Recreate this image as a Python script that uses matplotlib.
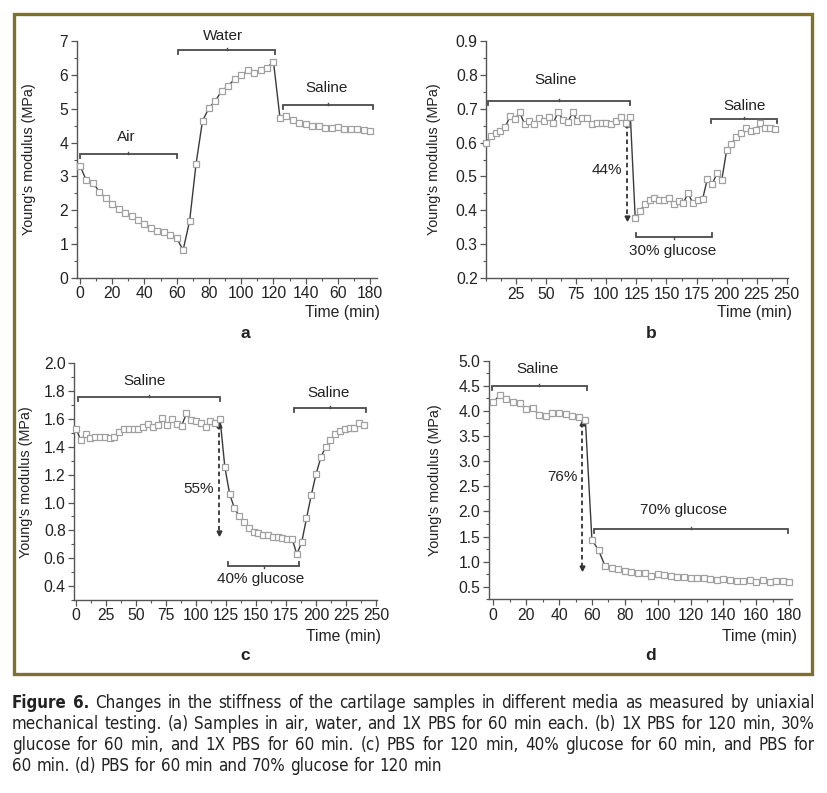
import numpy as np
import matplotlib
matplotlib.use('Agg')
import matplotlib.pyplot as plt
from matplotlib.patches import Rectangle
from matplotlib.ticker import MultipleLocator, FormatStrFormatter
from matplotlib import font_manager
from matplotlib.font_manager import FontProperties

W, H = 827, 793
plt.rcParams['font.family'] = ['Liberation Sans', 'DejaVu Sans']

# ---- dados ----
# (a) ar, água, salina
tempo_a = [0, 4, 8, 12, 16, 20, 24, 28, 32, 36, 40, 44, 48, 52, 56, 60,
           64, 68, 72, 76, 80, 84, 88, 92, 96, 100, 104, 108, 112, 116, 120,
           124, 128, 132, 136, 140, 144, 148, 152, 156, 160, 164, 168, 172, 176, 180]
modulo_a = [3.32, 2.88, 2.82, 2.55, 2.36, 2.20, 2.04, 1.91, 1.84, 1.72, 1.60, 1.48, 1.39, 1.35, 1.26, 1.17,
            0.83, 1.68, 3.37, 4.64, 5.02, 5.24, 5.53, 5.68, 5.88, 5.99, 6.13, 6.05, 6.15, 6.21, 6.39,
            4.74, 4.79, 4.67, 4.59, 4.54, 4.48, 4.48, 4.43, 4.43, 4.45, 4.41, 4.41, 4.39, 4.37, 4.35]

# (b) salina, glicose 30%, salina
tempo_b = [0, 4, 8, 12, 16, 20, 24, 28, 32, 36, 40, 44, 48, 52, 56, 60, 64, 68, 72, 76,
           80, 84, 88, 92, 96, 100, 104, 108, 112, 116, 120,
           124, 128, 132, 136, 140, 144, 148, 152, 156, 160, 164, 168, 172, 176, 180,
           184, 188, 192, 196, 200, 204, 208, 212, 216, 220, 224, 228, 232, 236, 240]
modulo_b = [0.600, 0.619, 0.627, 0.635, 0.645, 0.678, 0.669, 0.689, 0.655, 0.664, 0.655, 0.672,
            0.664, 0.676, 0.658, 0.690, 0.666, 0.660, 0.690, 0.662, 0.672, 0.672, 0.654, 0.658,
            0.658, 0.658, 0.655, 0.662, 0.674, 0.658, 0.676,
            0.379, 0.398, 0.419, 0.431, 0.438, 0.431, 0.431, 0.436, 0.419, 0.428, 0.423, 0.450,
            0.421, 0.431, 0.433, 0.493, 0.478, 0.509, 0.491, 0.577, 0.597, 0.616, 0.628, 0.643,
            0.635, 0.638, 0.657, 0.643, 0.643, 0.640]

# (c) salina, glicose 40%, salina
tempo_c = tempo_b
modulo_c = [1.528, 1.449, 1.492, 1.466, 1.473, 1.473, 1.473, 1.466, 1.468, 1.507, 1.526, 1.526,
            1.526, 1.526, 1.540, 1.564, 1.540, 1.557, 1.605, 1.557, 1.600, 1.564, 1.552, 1.640,
            1.593, 1.586, 1.574, 1.540, 1.586, 1.574, 1.600,
            1.253, 1.061, 0.958, 0.903, 0.862, 0.814, 0.790, 0.783, 0.767, 0.767, 0.750, 0.750,
            0.743, 0.738, 0.738, 0.630, 0.714, 0.886, 1.054, 1.205, 1.325, 1.401, 1.449, 1.490,
            1.514, 1.528, 1.538, 1.538, 1.569, 1.557]

# (d) salina, glicose 70%
tempo_d = tempo_a
modulo_d = [4.17, 4.32, 4.23, 4.18, 4.15, 4.03, 4.05, 3.92, 3.90, 3.95, 3.95, 3.93, 3.90, 3.87, 3.82,
            1.43, 1.23, 0.91, 0.87, 0.85, 0.82, 0.80, 0.78, 0.77, 0.72, 0.75, 0.73, 0.72, 0.70, 0.69,
            0.68, 0.67, 0.67, 0.65, 0.63, 0.65, 0.63, 0.62, 0.61, 0.63, 0.60, 0.63, 0.59, 0.61, 0.61, 0.60]

rotulos_x_a = ['0', '20', '40', '60', '80', '100', '120', '140', '60', '180']

legenda = [
    "Figure 6. Changes in the stiffness of the cartilage samples in different media as measured by uniaxial",
    "mechanical testing. (a) Samples in air, water, and 1X PBS for 60 min each. (b) 1X PBS for 120 min, 30%",
    "glucose for 60 min, and 1X PBS for 60 min. (c) PBS for 120 min, 40% glucose for 60 min, and PBS for",
    "60 min. (d) PBS for 60 min and 70% glucose for 120 min",
]

CINZA = '#4a4a4a'
fig = plt.figure(figsize=(W / 100, H / 100), dpi=100)
fig.patches.append(Rectangle((14 / W, 1 - 674 / H), 798 / W, 660 / H, transform=fig.transFigure,
                             fill=False, edgecolor='#7d712d', linewidth=2.4))


def eixo(left, top, right, bottom):
    return fig.add_axes([left / W, 1 - bottom / H, (right - left) / W, (bottom - top) / H])


def estilo(ax, xlim, ylim, xmin, ymaj, ymin, fmt):
    ax.set_xlim(*xlim)
    ax.set_ylim(*ylim)
    for s in ['top', 'right']:
        ax.spines[s].set_visible(False)
    for s in ['left', 'bottom']:
        ax.spines[s].set_color('#555555')
        ax.spines[s].set_linewidth(1.0)
    ax.xaxis.set_minor_locator(MultipleLocator(xmin))
    ax.yaxis.set_major_locator(MultipleLocator(ymaj))
    ax.yaxis.set_minor_locator(MultipleLocator(ymin))
    ax.yaxis.set_major_formatter(FormatStrFormatter(fmt))
    ax.tick_params(which='major', direction='out', length=4, width=0.9, color='#555555',
                   labelsize=11.3, labelcolor='#222222', pad=2)
    ax.tick_params(which='minor', direction='out', length=2.5, width=0.8, color='#555555')
    ax.set_ylabel("Young's modulus (MPa)", fontsize=10.4, color='#222222')
    ax.patch.set_alpha(0)


def curva(ax, t, v):
    ax.plot(t, v, '-', color='#3a3a3a', lw=1.0, marker='s', ms=4.6, mfc='white',
            mec='#a0a0a0', mew=0.9, clip_on=False, zorder=3)


def px(ax):
    y0, y1 = ax.get_ylim()
    return (y1 - y0) / (ax.get_position().height * H)


def chave(ax, x0, x1, y, inv=False):
    u = px(ax)
    s = 1 if inv else -1
    ax.plot([x0, x0, x1, x1], [y + s * 4 * u, y, y, y + s * 4 * u], color=CINZA, lw=1.3,
            clip_on=False, solid_joinstyle='miter')
    xc = (x0 + x1) / 2
    ax.plot([xc, xc], [y, y - s * 2 * u], color=CINZA, lw=1.0, clip_on=False)


def seta(ax, x, ytop, ybot):
    ax.plot([x, x], [ytop, ybot], ls=(0, (2.5, 1.8)), color='#333333', lw=1.3, clip_on=False)
    ax.plot([x], [ytop], marker='^', ms=3.5, color='#333333', clip_on=False)
    ax.plot([x], [ybot], marker='v', ms=3.5, color='#333333', clip_on=False)


def rotulos(ax, letra, lx, ly, tx, ty):
    fig.text(lx / W, 1 - ly / H, letra, ha='center', va='center', fontsize=12.5,
             fontweight='bold', color='#222222')
    fig.text(tx / W, 1 - ty / H, 'Time (min)', ha='right', va='center', fontsize=11.3,
             color='#222222')


txt = dict(fontsize=11, color='#222222', ha='center', va='center', clip_on=False)

# ---- (a) ----
ax = eixo(76.7, 41, 376.7, 278)
estilo(ax, (-2, 184), (0, 7), 10, 1, 0.5, '%d')
ax.set_xticks(range(0, 181, 20))
ax.set_xticklabels(rotulos_x_a)
curva(ax, tempo_a, modulo_a)
chave(ax, 0, 60, 3.66)
chave(ax, 61, 121, 6.72)
chave(ax, 126, 182, 5.1)
ax.text(29, 4.15, 'Air', **txt)
ax.text(89, 7.16, 'Water', **txt)
ax.text(153, 5.6, 'Saline', **txt)
ax.yaxis.set_label_coords(-0.135, 0.5)
rotulos(ax, 'a', 245, 333, 380, 313)

# ---- (b) ----
ax = eixo(486, 40.7, 788, 278.3)
estilo(ax, (0, 251), (0.2, 0.9), 12.5, 0.1, 0.05, '%.1f')
ax.set_xticks(range(25, 251, 25))
curva(ax, tempo_b, modulo_b)
chave(ax, 2, 120, 0.722)
chave(ax, 125, 188, 0.321, inv=True)
chave(ax, 187, 242, 0.668)
seta(ax, 117, 0.655, 0.378)
ax.text(58, 0.784, 'Saline', **txt)
ax.text(215, 0.707, 'Saline', **txt)
ax.text(155, 0.281, '30% glucose', **txt)
ax.text(113, 0.519, '44%', fontsize=11, color='#222222', ha='right', va='center')
ax.yaxis.set_label_coords(-0.148, 0.5)
rotulos(ax, 'b', 651, 333, 792, 313)

# ---- (c) ----
ax = eixo(74, 363.3, 377.3, 600)
estilo(ax, (-1.7, 251), (0.3, 2.0), 12.5, 0.2, 0.1, '%.1f')
ax.set_xticks(range(0, 251, 25))
curva(ax, tempo_c, modulo_c)
chave(ax, 2, 120, 1.76)
chave(ax, 127, 186, 0.544, inv=True)
chave(ax, 182, 242, 1.68)
seta(ax, 119.2, 1.56, 0.78)
ax.text(57, 1.875, 'Saline', **txt)
ax.text(210, 1.785, 'Saline', **txt)
ax.text(154, 0.448, '40% glucose', **txt)
ax.text(115, 1.095, '55%', fontsize=11, color='#222222', ha='right', va='center')
ax.yaxis.set_label_coords(-0.135, 0.5)
rotulos(ax, 'c', 245, 655, 381, 636)

# ---- (d) ----
ax = eixo(488.7, 360.7, 791.7, 599.3)
estilo(ax, (-2.8, 181.5), (0.25, 5.0), 10, 0.5, 0.25, '%.1f')
ax.set_xticks(range(0, 181, 20))
curva(ax, tempo_d, modulo_d)
chave(ax, -1, 57, 4.5)
chave(ax, 61, 179, 1.64)
seta(ax, 54.2, 3.75, 0.87)
ax.text(27, 4.84, 'Saline', **txt)
ax.text(116, 2.03, '70% glucose', **txt)
ax.text(51, 2.69, '76%', fontsize=11, color='#222222', ha='right', va='center')
ax.yaxis.set_label_coords(-0.155, 0.5)
rotulos(ax, 'd', 651, 655, 797, 636)


# ---- legenda justificada (fonte estreita, se houver) ----
def acha_fonte(bold):
    pref = ['Liberation Sans Narrow', 'DejaVu Sans Condensed', 'Roboto Condensed',
            'Open Sans Condensed', 'Noto Sans Condensed']
    cand = []
    for f in font_manager.fontManager.ttflist:
        nome = f.name
        arq = f.fname.lower()
        estreita = ('narrow' in nome.lower() or 'condensed' in nome.lower()
                    or f.stretch in ('condensed', 'semi-condensed') or 'condensed' in arq
                    or 'narrow' in arq)
        if not estreita or f.style != 'normal':
            continue
        peso = f.weight if isinstance(f.weight, int) else (700 if 'bold' in str(f.weight) else 400)
        if bold != (peso >= 600):
            continue
        if 'extra' in arq or 'ultra' in arq or 'semi' in arq or 'light' in arq or 'medium' in arq:
            continue
        rank = len(pref)
        for k, p in enumerate(pref):
            if p.split()[0].lower() in nome.lower() or p.split()[0].lower() in arq:
                rank = k
                break
        cand.append((rank, f.fname))
    if not cand:
        return None
    cand.sort()
    return cand[0][1]


arq_n = acha_fonte(False)
arq_b = acha_fonte(True)
if arq_n:
    fp_n = FontProperties(fname=arq_n)
    fp_b = FontProperties(fname=arq_b) if arq_b else FontProperties(fname=arq_n, weight='bold')
else:
    fp_n = FontProperties(family=['Liberation Sans', 'DejaVu Sans'])
    fp_b = FontProperties(family=['Liberation Sans', 'DejaVu Sans'], weight='bold')

x_ini, x_fim = 12, 815
ys = [703, 724, 745, 766]
fig.canvas.draw()
r = fig.canvas.get_renderer()


def largura(texto, fp, tam):
    f = fp.copy()
    f.set_size(tam)
    t = fig.text(0, 0, texto, fontproperties=f)
    w = t.get_window_extent(renderer=r).width
    t.remove()
    return w


# tamanho que faz as linhas cheias caberem com espaço normal
tam = 20
for linha in legenda[:3]:
    w = largura(linha, fp_n, 12)
    tam = min(tam, 12 * (x_fim - x_ini) / (w * 1.02))
tam = min(tam, 14.5)

for i, linha in enumerate(legenda):
    palavras = linha.split(' ')
    objs = []
    for j, p in enumerate(palavras):
        f = (fp_b if (i == 0 and j < 2) else fp_n).copy()
        f.set_size(tam)
        t = fig.text(0, 1 - ys[i] / H, p, fontproperties=f, color='#222222',
                     va='center', ha='left')
        objs.append(t)
    larg = [o.get_window_extent(renderer=r).width for o in objs]
    if i < len(legenda) - 1:
        gap = (x_fim - x_ini - sum(larg)) / (len(objs) - 1)
    else:
        gap = largura('a a', fp_n, tam) - largura('aa', fp_n, tam)
    x = x_ini
    for o, w in zip(objs, larg):
        o.set_x(x / W)
        x += w + gap

fig.savefig('out.png', dpi=100)
